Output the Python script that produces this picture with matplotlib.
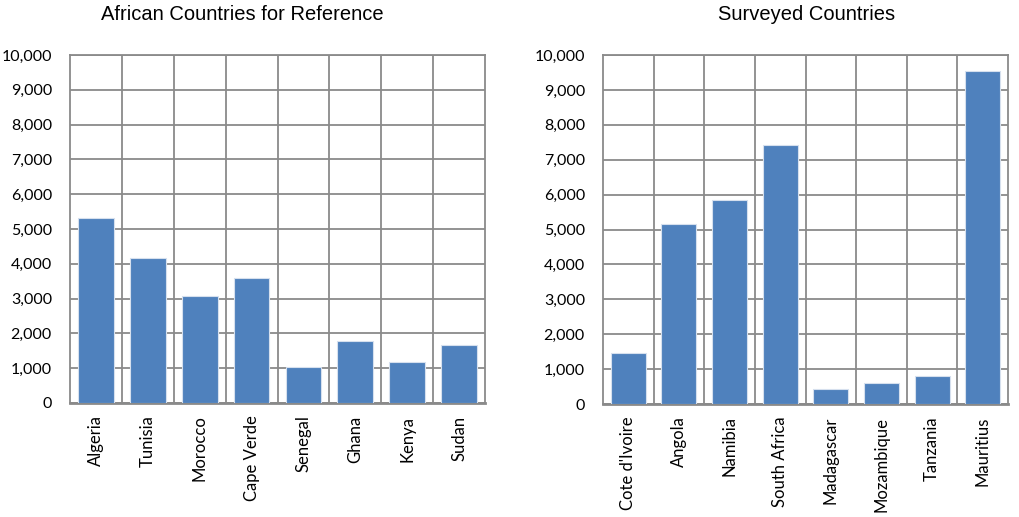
import matplotlib
matplotlib.use("Agg")
import matplotlib.pyplot as plt
from matplotlib.ticker import FuncFormatter, FixedLocator
import numpy as np

reference_countries = ["Algeria", "Tunisia", "Morocco", "Cape Verde", "Senegal", "Ghana", "Kenya", "Sudan"]
reference_values = [5320, 4180, 3070, 3580, 1030, 1770, 1170, 1660]

surveyed_countries = ["Cote d'Ivoire", "Angola", "Namibia", "South Africa", "Madagascar", "Mozambique", "Tanzania", "Mauritius"]
surveyed_values = [1450, 5170, 5850, 7420, 440, 600, 800, 9530]

titles = ["African Countries for Reference", "Surveyed Countries"]

BAR_COLOR = "#4F81BD"
GRID_COLOR = "#8A8A8A"
TICK_FONT = "Lato"
TITLE_FONT = "Liberation Sans"

fig = plt.figure(figsize=(10.19, 5.17), dpi=100)
W, H = 1019, 517
panels = [
    (70, 485, 55, 403),
    (603, 1008, 55, 404),
]
title_centers = [242, 807]


def draw_panel(ax, cats, vals):
    x = np.arange(len(cats))
    ax.bar(x, vals, width=0.69, color=BAR_COLOR, edgecolor="#D6E0EE", linewidth=0.8, zorder=3)
    ax.set_xlim(-0.5, len(cats) - 0.5)
    ax.set_ylim(0, 10000)
    ax.set_yticks(np.arange(0, 10001, 1000))
    ax.yaxis.set_major_formatter(FuncFormatter(lambda v, p: f"{int(v):,}"))
    ax.set_xticks(x)
    ax.set_xticklabels(cats, rotation=90, fontfamily=TICK_FONT, fontsize=12)
    ax.xaxis.set_minor_locator(FixedLocator(np.arange(0.5, len(cats) - 0.5, 1)))
    for lab in ax.get_yticklabels():
        lab.set_fontfamily(TICK_FONT)
        lab.set_fontsize(11.5)
    ax.tick_params(axis="x", which="major", length=0, pad=9)
    ax.tick_params(axis="x", which="minor", length=0)
    ax.tick_params(axis="y", length=0, pad=13)
    ax.grid(axis="y", which="major", color=GRID_COLOR, linewidth=1.3, zorder=0)
    ax.grid(axis="x", which="minor", color=GRID_COLOR, linewidth=1.3, zorder=0)
    for s in ax.spines.values():
        s.set_color(GRID_COLOR)
        s.set_linewidth(1.3)
    ax.spines["bottom"].set_linewidth(2)
    ax.set_axisbelow(True)


for (x0, x1, y0, y1), cats, vals, title, tc in zip(
    panels,
    [reference_countries, surveyed_countries],
    [reference_values, surveyed_values],
    titles,
    title_centers,
):
    ax = fig.add_axes([x0 / W, 1 - y1 / H, (x1 - x0) / W, (y1 - y0) / H])
    draw_panel(ax, cats, vals)
    fig.text(tc / W, 1 - 14 / H, title, ha="center", va="center",
             fontfamily=TITLE_FONT, fontsize=14.5)

fig.savefig("out.png", dpi=100)
